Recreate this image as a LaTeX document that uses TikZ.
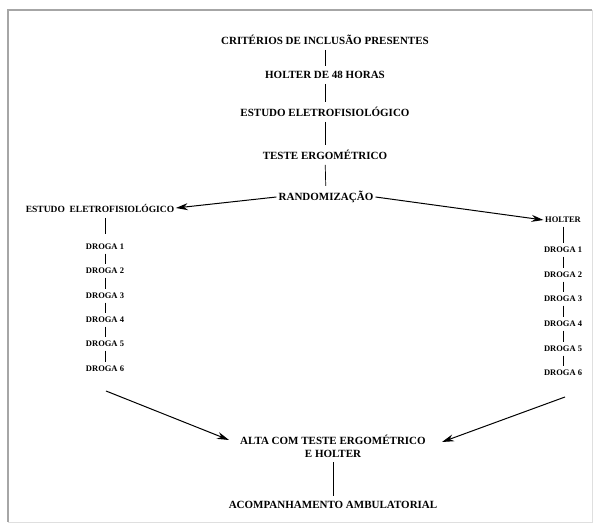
\documentclass[tikz,border=0pt]{standalone}
\usepackage{fontspec}
\setmainfont{Liberation Serif}
\usetikzlibrary{arrows.meta}
\begin{document}
\begin{tikzpicture}[x=1pt,y=1pt,
  main/.style={font=\bfseries\fontsize{11}{13}\selectfont, inner sep=2pt, align=center},
  small/.style={font=\bfseries\fontsize{8.5}{10}\selectfont, inner sep=1.5pt},
  conn/.style={draw=black, line width=0.7pt},
  tick/.style={draw=black, line width=0.5pt, shorten <=2pt, shorten >=2pt},
  arr/.style={draw=black, line width=1pt, -{Stealth[length=12pt,width=7pt]}}]
\useasboundingbox (0,0) rectangle (594,526);
\fill[white] (0,0) rectangle (594,526);
% frame
\draw[gray!70, line width=1.2pt] (8,4) -- (8,516) -- (592,516);
\draw[gray!25, line width=0.8pt] (8,4) -- (592,4) -- (592,516);
% main column
\node[main] (crit)  at (325,486) {CRITÉRIOS DE INCLUSÃO PRESENTES};
\node[main] (h48)   at (325,451) {HOLTER DE 48 HORAS};
\node[main] (eef)   at (325,414) {ESTUDO ELETROFISIOLÓGICO};
\node[main] (teste) at (325,371) {TESTE ERGOMÉTRICO};
\node[main] (rand)  at (326,329) {RANDOMIZAÇÃO};
\draw[conn, shorten <=3pt, shorten >=3pt] (crit) -- (h48);
\draw[conn, shorten <=3pt, shorten >=3pt] (h48) -- (eef);
\draw[conn, shorten <=3pt, shorten >=3pt] (eef) -- (teste);
\draw[conn, shorten <=3pt, shorten >=3pt] (teste) -- (rand);
% left column
\node[small, font=\bfseries\fontsize{9.5}{11}\selectfont] (leef) at (100,318) {ESTUDO \ ELETROFISIOLÓGICO};
\node[small] (l1) at (105,279) {DROGA 1};
\node[small] (l2) at (105,255) {DROGA 2};
\node[small] (l3) at (105,230) {DROGA 3};
\node[small] (l4) at (105,206) {DROGA 4};
\node[small] (l5) at (105,182) {DROGA 5};
\node[small] (l6) at (105,157) {DROGA 6};
\draw[conn, shorten <=4pt, shorten >=8pt] (leef.south -| l1) -- (l1);
\foreach \a/\b in {l1/l2,l2/l3,l3/l4,l4/l5,l5/l6} \draw[tick] (\a) -- (\b);
% right column
\node[small] (rh) at (563,306) {HOLTER};
\node[small] (r1) at (563,276) {DROGA 1};
\node[small] (r2) at (563,251) {DROGA 2};
\node[small] (r3) at (563,227) {DROGA 3};
\node[small] (r4) at (563,202) {DROGA 4};
\node[small] (r5) at (563,177) {DROGA 5};
\node[small] (r6) at (563,153) {DROGA 6};
\foreach \a/\b in {rh/r1,r1/r2,r2/r3,r3/r4,r4/r5,r5/r6} \draw[tick] (\a) -- (\b);
% randomization arrows
\draw[arr] (rand.west) -- (leef.east);
\draw[arr] (rand.east) -- (rh.west);
% bottom
\node[main] (alta)  at (333,80) {ALTA COM TESTE ERGOMÉTRICO\\E HOLTER};
\node[main] (acomp) at (333,21) {ACOMPANHAMENTO AMBULATORIAL};
\draw[conn, shorten <=3pt, shorten >=3pt] (alta) -- (acomp);
\coordinate (ls) at (106,135);
\coordinate (rs) at (565,129);
\coordinate (lt) at (229,86);
\coordinate (rt) at (442,84);
\draw[arr] (ls) -- (lt);
\draw[arr] (rs) -- (rt);
\end{tikzpicture}
\end{document}
